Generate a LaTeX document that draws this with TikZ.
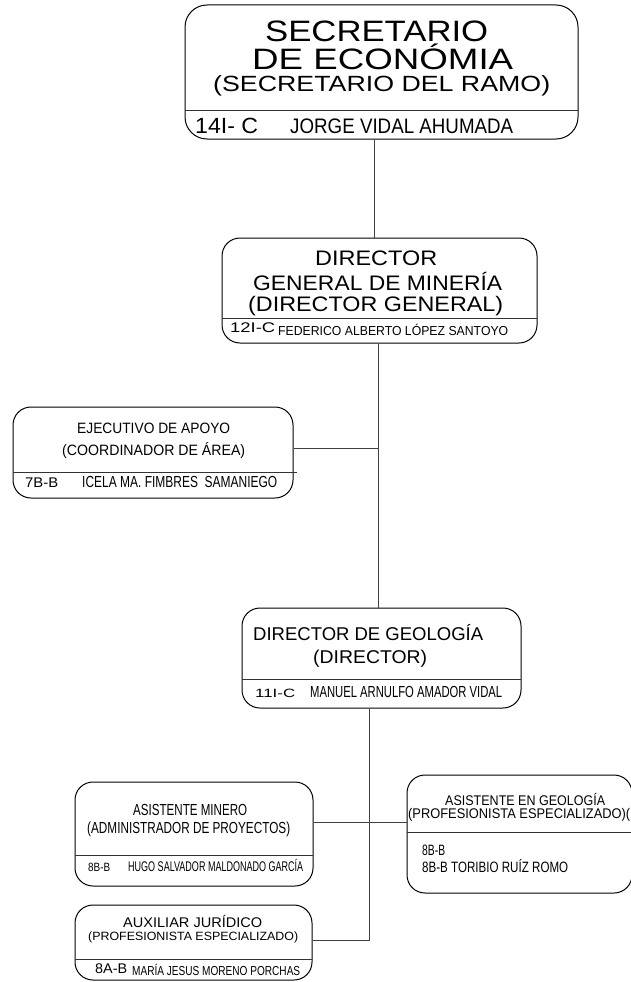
\documentclass[tikz,border=0pt]{standalone}
\usepackage{fontspec}
\setmainfont{Liberation Sans}
\usepackage{graphicx}
\newcommand\fitw[2]{\resizebox{#1pt}{\height}{#2}}
\newcommand\T[6]{\node[txt,font=\fontsize{#4}{#4}\selectfont] (#1) at (#2,#3) {\fitw{#5}{#6}};}
\tikzset{
  box/.style={draw=black, line width=1pt, rounded corners=18pt, inner sep=0pt},
  txt/.style={inner sep=0pt, anchor=base west, text=black},
  divl/.style={draw=black!80, line width=0.9pt},
  conn/.style={draw=black!75, line width=0.9pt},
}
\begin{document}
\begin{tikzpicture}[x=1pt,y=-1pt]
\useasboundingbox (0,0) rectangle (630,982);
\fill[white] (0,0) rectangle (630,982);

% Box 1
\node[box, rounded corners=22pt, minimum width=393pt, minimum height=134pt] (b1) at (381.5,72) {};
\draw[divl] (185,110) -- (578,110);
\T{s1}{265}{42}{29.5}{223}{SECRETARIO}
\T{s2}{252}{70}{29.5}{261}{DE ECONÓMIA}
\T{s3}{213}{91}{22}{337}{(SECRETARIO DEL RAMO)}
\T{s4}{195}{133}{22}{63}{14I- C}
\T{s5}{290}{133}{21}{223}{JORGE VIDAL AHUMADA}

% Box 2
\node[box, minimum width=315pt, minimum height=105pt] (b2) at (379.5,290.5) {};
\draw[divl] (222,318) -- (537,318);
\T{d1}{315}{265}{21}{122}{DIRECTOR}
\T{d2}{253}{290}{21}{249}{GENERAL DE MINERÍA}
\T{d3}{248}{311}{21}{255}{(DIRECTOR GENERAL)}
\T{d4}{230}{332}{14}{45}{12I-C}
\T{d5}{278}{335}{13}{230}{FEDERICO ALBERTO LÓPEZ SANTOYO}

% Box 3
\node[box, minimum width=280pt, minimum height=91pt] (b3) at (153,452.5) {};
\draw[divl] (13,472) -- (297,472);
\T{e1}{77}{433}{15}{153}{EJECUTIVO DE APOYO}
\T{e2}{62}{455}{15}{183}{(COORDINADOR DE ÁREA)}
\T{e3}{25}{487}{14}{33}{7B-B}
\T{e4}{82}{487}{16}{195}{ICELA MA. FIMBRES~ SAMANIEGO}

% Box 4
\node[box, minimum width=279pt, minimum height=100pt] (b4) at (381.5,658) {};
\draw[divl] (242,679) -- (521,679);
\T{g1}{253}{640}{18.5}{230}{DIRECTOR DE GEOLOGÍA}
\T{g2}{313}{663}{18.5}{114}{(DIRECTOR)}
\T{g3}{255}{697}{12}{40}{11I-C}
\T{g4}{310}{697}{16}{192}{MANUEL ARNULFO AMADOR VIDAL}

% Box 5
\node[box, minimum width=238pt, minimum height=104pt] (b5) at (194,834) {};
\draw[divl] (75,855) -- (313,855);
\T{m1}{133}{815}{16}{114}{ASISTENTE MINERO}
\T{m2}{87}{833}{16}{203}{(ADMINISTRADOR DE PROYECTOS)}
\T{m3}{88}{871}{12}{22}{8B-B}
\T{m4}{128}{871}{14}{175}{HUGO SALVADOR MALDONADO GARCÍA}

% Box 6
\node[box, minimum width=225pt, minimum height=118pt] (b6) at (519.5,834) {};
\draw[divl] (407,832) -- (632,832);
\T{a1}{445}{805}{14}{160}{ASISTENTE EN GEOLOGÍA}
\T{a2}{408}{818}{14}{222}{(PROFESIONISTA ESPECIALIZADO)(}
\T{a3}{422}{855}{15}{23}{8B-B}
\T{a4}{422}{872}{15}{146}{8B-B TORIBIO RUÍZ ROMO}

% Box 7
\node[box, minimum width=237pt, minimum height=75pt] (b7) at (193.5,942.5) {};
\draw[divl] (75,959) -- (312,959);
\T{x1}{123}{927}{14}{139}{AUXILIAR JURÍDICO}
\T{x2}{88}{940}{12}{210}{(PROFESIONISTA ESPECIALIZADO)}
\T{x3}{95}{973}{14}{32}{8A-B}
\T{x4}{132}{975}{13}{168}{MARÍA JESUS MORENO PORCHAS}

% Connectors
\coordinate (j1) at (374,0);
\coordinate (j2) at (378,448);
\coordinate (j3) at (369,940);
\coordinate (jm) at (369,822);
\draw[conn] (b1.south -| j1) -- (b2.north -| j1);
\draw[conn] (b2.south -| j2) -- (b4.north -| j2);
\draw[conn] (j2 -| b3.east) -- (j2);
\draw[conn] (b4.south -| j3) -- (j3) -- (j3 -| b7.east);
\draw[conn] (jm -| b5.east) -- (jm -| b6.west);
\end{tikzpicture}
\end{document}
